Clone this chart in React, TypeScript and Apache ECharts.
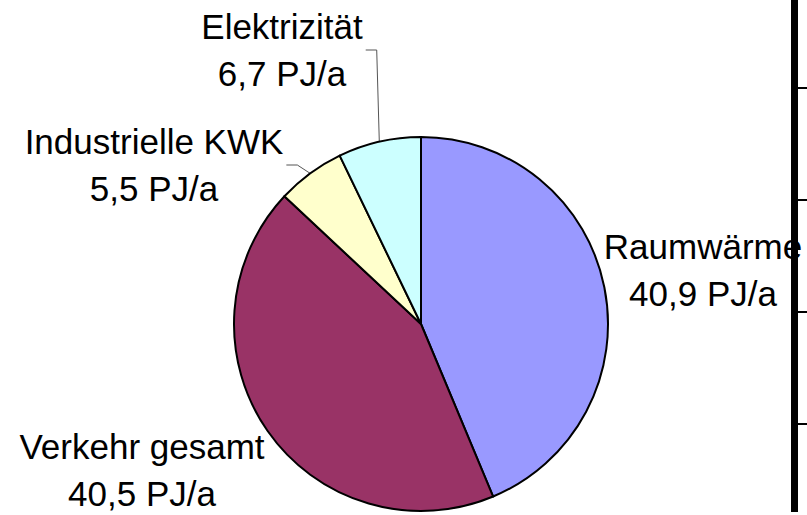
import React, { useEffect, useRef } from "react";
import * as echarts from "echarts";

// Data
const categories = ["Raumwärme", "Verkehr gesamt", "Industrielle KWK", "Elektrizität"];
const values = [40.9, 40.5, 5.5, 6.7];
const colors = ["#9999FF", "#993366", "#FFFFCC", "#CCFFFF"];
const unit = "PJ/a";
const showLeader = [false, false, true, true];

// Layout (label anchor positions, pixels)
const labelPos: number[][] = [
  [703, 270],
  [142, 470],
  [154, 165],
  [282, 50],
];
const sideTicksY = [88, 200, 312, 424];

export default function App() {
  const ref = useRef<HTMLDivElement>(null);
  useEffect(() => {
    if (!ref.current) return;
    const chart = echarts.init(ref.current, undefined, { renderer: "svg" });
    const graphic: any[] = [
      {
        type: "rect",
        z: 100,
        shape: { x: 791, y: 0, width: 7, height: 512 },
        style: { fill: "#000" },
      },
      ...sideTicksY.map((y) => ({
        type: "line",
        z: 100,
        shape: { x1: 797, y1: y, x2: 807, y2: y },
        style: { stroke: "#000", lineWidth: 2 },
      })),
    ];
    chart.setOption({
      animation: false,
      backgroundColor: "#fff",
      graphic,
      series: [
        {
          type: "pie",
          center: [421, 324],
          radius: 187,
          startAngle: 90,
          clockwise: true,
          avoidLabelOverlap: false,
          itemStyle: { borderColor: "#000", borderWidth: 2 },
          label: {
            show: true,
            position: "outside",
            color: "#000",
            fontFamily: "Liberation Sans, Arial, sans-serif",
            fontSize: 35,
            lineHeight: 47,
            align: "center",
            formatter: (p: any) =>
              `${p.name}\n${String(p.value).replace(".", ",")} ${unit}`,
          },
          labelLine: {
            show: true,
            lineStyle: { color: "#555", width: 1 },
          },
          labelLayout: (params: any) => {
            const i = params.dataIndex;
            const [x, y] = labelPos[i];
            const w = params.labelRect.width;
            const res: any = { x, y, align: "center", verticalAlign: "middle" };
            if (showLeader[i] && params.labelLinePoints) {
              const start = params.labelLinePoints[0];
              const endX = x + w / 2 + 3;
              res.labelLinePoints = [start, [endX + 11, y], [endX, y]];
            }
            return res;
          },
          emphasis: { disabled: true },
          data: categories.map((name, i) => ({
            name,
            value: values[i],
            itemStyle: { color: colors[i] },
            labelLine: { show: showLeader[i] },
          })),
        },
      ],
    });
    return () => chart.dispose();
  }, []);
  return (
    <div
      ref={ref}
      style={{ position: "fixed", left: 0, top: 0, width: 807, height: 515 }}
    />
  );
}
